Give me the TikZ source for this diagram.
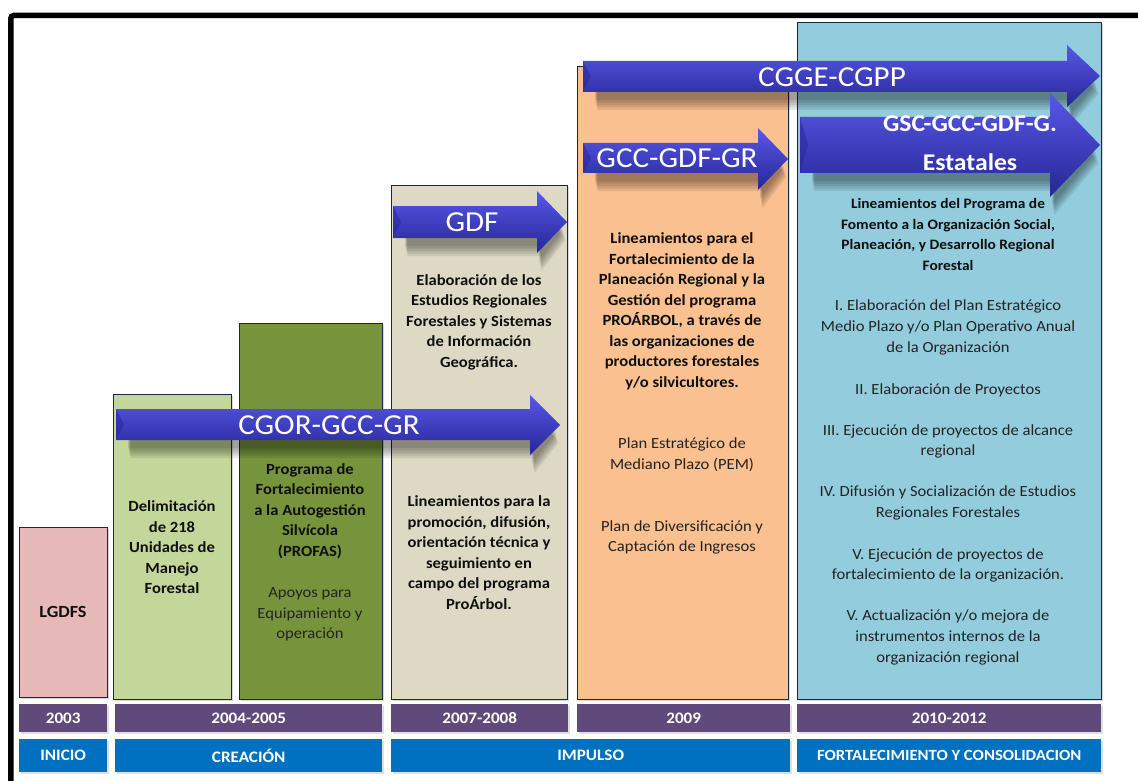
\documentclass[tikz,border=0pt]{standalone}
\usepackage{fontspec}
\setmainfont{Carlito}[FakeStretch=1.07]
\usetikzlibrary{shadows}
\definecolor{cpink}{RGB}{230,185,184}
\definecolor{clgreen}{RGB}{196,215,155}
\definecolor{colive}{RGB}{119,147,60}
\definecolor{cbeige}{RGB}{221,217,196}
\definecolor{cpeach}{RGB}{250,192,144}
\definecolor{clblue}{RGB}{147,205,221}
\definecolor{cpurple}{RGB}{96,74,123}
\definecolor{cphase}{RGB}{0,112,192}
\definecolor{cline}{RGB}{28,38,60}
\definecolor{ctext}{RGB}{15,15,15}
\definecolor{creg}{RGB}{35,35,35}
\definecolor{atop}{RGB}{88,88,232}
\definecolor{amid}{RGB}{58,58,206}
\definecolor{abot}{RGB}{38,38,150}
\newcommand{\bigarrow}[7]{%
  \foreach \k in {0,1,2,3,4}{%
    \fill[black, opacity=0.085, shift={(2+\k*0.6,8+\k*2.5)}]
      (#1+10,#2) -- (#4,#2) -- (#4,#5) -- (#7-6,{(#5+#6)/2}) -- (#4,#6) -- (#4,#3) -- (#1+10,#3) -- cycle;}
  \shade[top color=atop, middle color=amid, bottom color=abot]
    (#1,#2) -- (#4,#2) -- (#4,#5) -- (#7,{(#5+#6)/2}) -- (#4,#6) -- (#4,#3) -- (#1,#3) -- cycle;
  \fill[abot, opacity=0.5] (#1,#2) -- (#1+8,{(#2+#3)/2}) -- (#1,#3) -- cycle;
}
\begin{document}
\begin{tikzpicture}[x=1pt,y=-1pt,
  box/.style={draw=cline, line width=1.3pt, inner sep=0pt, anchor=north west,
    drop shadow={shadow xshift=1.5pt, shadow yshift=-1.5pt, opacity=0.3}},
  bar/.style={inner sep=0pt, anchor=north west, text=white,
    font=\bfseries\fontsize{16}{18}\selectfont,
    drop shadow={shadow xshift=1.5pt, shadow yshift=-1.5pt, opacity=0.25}},
  yearbar/.style={bar, fill=cpurple, minimum height=28pt},
  phasebar/.style={bar, fill=cphase, minimum height=33pt},
  bt/.style={font=\bfseries\fontsize{15.5}{20.5}\selectfont, text=ctext, align=center, inner sep=0pt},
  rt/.style={font=\fontsize{15.5}{20.6}\selectfont, text=creg, align=center, inner sep=0pt},
  al/.style={font=\fontsize{29}{32}\selectfont, text=white, inner sep=0pt},
]
\useasboundingbox (0,0) rectangle (1138,781);
\clip (0,0) rectangle (1138,781);
\fill[white] (0,0) rectangle (1138,781);
\draw[line width=5.5pt, rounded corners=3pt] (10.8,800) |- (1160,15.5);

% columns
\node[box, fill=cpink,   minimum width=88pt,  minimum height=170pt] (b03)  at (19,527) {};
\node[box, fill=clgreen, minimum width=118pt, minimum height=305pt] (b04a) at (113,394) {};
\node[box, fill=colive,  minimum width=143pt, minimum height=376pt] (b04b) at (239,323) {};
\node[box, fill=cbeige,  minimum width=176pt, minimum height=514pt] (b07)  at (391,185) {};
\node[box, fill=cpeach,  minimum width=211pt, minimum height=633pt] (b09)  at (577,66) {};
\node[box, fill=clblue,  minimum width=304pt, minimum height=677pt] (b10)  at (797,22) {};

% year bars
\node[yearbar, minimum width=88pt]  (y03) at (19,704)  {2003};
\node[yearbar, minimum width=267pt] (y04) at (115,704) {2004-2005};
\node[yearbar, minimum width=177pt] (y07) at (391,704) {2007-2008};
\node[yearbar, minimum width=213pt] (y09) at (577,704) {2009};
\node[yearbar, minimum width=304pt] (y10) at (797,704) {2010-2012};

% phase bars
\node[phasebar, minimum width=88pt]  (p1) at (19,739)  {INICIO};
\node[phasebar, minimum width=267pt] (p2) at (115,739) {CREACIÓN};
\node[phasebar, minimum width=399pt] (p3) at (391,739) {IMPULSO};
\node[phasebar, minimum width=304pt, font=\bfseries\fontsize{15.6}{18}\selectfont] (p4) at (797,739) {FORTALECIMIENTO Y CONSOLIDACION};

% texts in columns
\node[bt, font=\bfseries\fontsize{17}{20}\selectfont] (t1) at (63,612) {LGDFS};
\node[bt] (t2) at (172,547.5) {Delimitación\\de 218\\Unidades de\\Manejo\\Forestal};
\node[bt] (t3) at (310,511) {Programa de\\Fortalecimiento\\a la Autogestión\\Silvícola\\(PROFAS)};
\node[rt] (t4) at (310,614.5) {Apoyos para\\Equipamiento y\\operación};
\node[bt] (t5) at (479,322) {Elaboración de los\\Estudios Regionales\\Forestales y Sistemas\\de Información\\Geográfica.};
\node[bt] (t6) at (479,552.5) {Lineamientos para la\\promoción, difusión,\\orientación técnica y\\seguimiento en\\campo del programa\\ProÁrbol.};
\node[bt] (t7) at (682,311.5) {Lineamientos para el\\Fortalecimiento de la\\Planeación Regional y la\\Gestión del programa\\PROÁRBOL, a través de\\las organizaciones de\\productores forestales\\y/o silvicultores.};
\node[rt] (t8) at (682,454.5) {Plan Estratégico de\\Mediano Plazo (PEM)};
\node[rt] (t9) at (682,537.5) {Plan de Diversificación y\\Captación de Ingresos};
\node[bt, font=\bfseries\fontsize{14.4}{20.8}\selectfont] (t10) at (948,234.5) {Lineamientos del Programa de\\Fomento a la Organización Social,\\Planeación, y Desarrollo Regional\\Forestal};
\node[rt] (t11) at (948,327.5) {I. Elaboración del Plan Estratégico\\Medio Plazo y/o Plan Operativo Anual\\de la Organización};
\node[rt] (t12) at (948,390) {II. Elaboración de Proyectos};
\node[rt] (t13) at (948,441.5) {III. Ejecución de proyectos de alcance\\regional};
\node[rt] (t14) at (948,503) {IV. Difusión y Socialización de Estudios\\Regionales Forestales};
\node[rt] (t15) at (948,565.5) {V. Ejecución de proyectos de\\fortalecimiento de la organización.};
\node[rt] (t16) at (948,637.5) {V. Actualización y/o mejora de\\instrumentos internos de la\\organización regional};

% arrows
\bigarrow{116}{409}{440}{530}{395}{455}{560}
\node[al] (a1) at (329,425) {CGOR-GCC-GR};
\bigarrow{393}{206}{238}{537}{191}{253}{567}
\node[al] (a2) at (472,222) {GDF};
\bigarrow{583}{143}{173}{758}{128}{190}{788}
\node[al] (a3) at (677,158) {GCC-GDF-GR};
\bigarrow{583}{61}{92}{1067}{45}{107}{1100}
\node[al] (a4) at (832,77) {CGGE-CGPP};
\bigarrow{800}{117}{173}{1050}{93}{197}{1100}
\node[al, font=\bfseries\fontsize{24}{39}\selectfont, align=center] (a5) at (970,143) {GSC-GCC-GDF-G.\\Estatales};
\end{tikzpicture}
\end{document}
